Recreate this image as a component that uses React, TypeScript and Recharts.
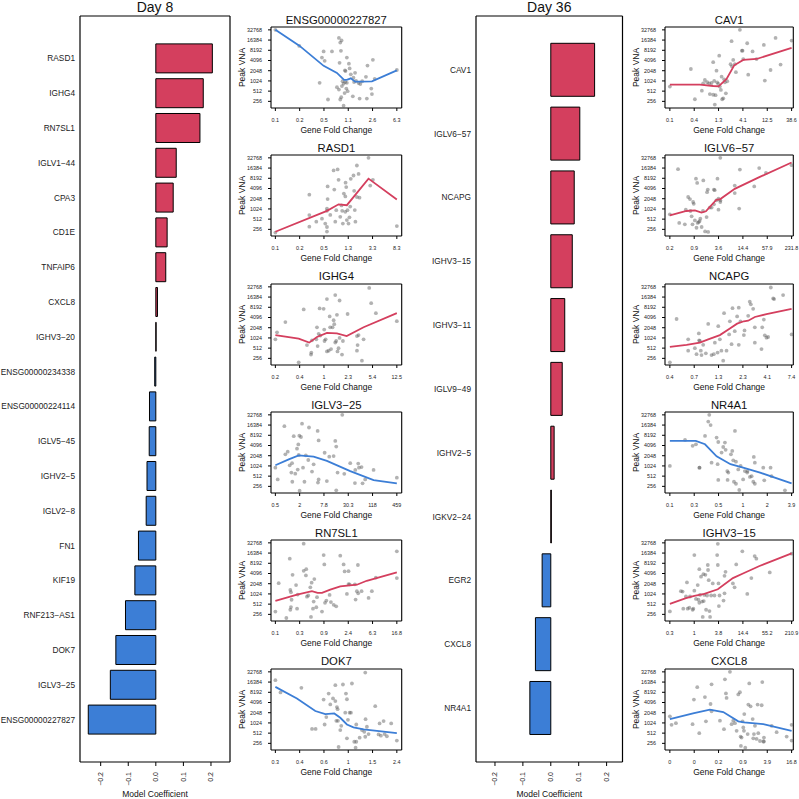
import {
  Bar,
  BarChart,
  CartesianGrid,
  Cell,
  Scatter,
  ScatterChart,
  XAxis,
  YAxis,
} from "recharts";

const FONT = '"Liberation Sans", Arial, Helvetica, sans-serif';
const RED = "#D43F5E";
const BLUE = "#3C7ED6";

// model coefficients
const day8Genes = [
  "RASD1", "IGHG4", "RN7SL1", "IGLV1\u221244", "CPA3", "CD1E", "TNFAIP6", "CXCL8",
  "IGHV3\u221220", "ENSG00000234338", "ENSG00000224114", "IGLV5\u221245", "IGHV2\u22125",
  "IGLV2\u22128", "FN1", "KIF19", "RNF213\u2212AS1", "DOK7", "IGLV3\u221225", "ENSG00000227827",
];
const day8Coef = [
  0.205, 0.172, 0.16, 0.074, 0.063, 0.041, 0.036, 0.006, 0.001, -0.004,
  -0.023, -0.024, -0.032, -0.035, -0.063, -0.076, -0.11, -0.145, -0.165, -0.245,
];
const day36Genes = [
  "CAV1", "IGLV6\u221257", "NCAPG", "IGHV3\u221215", "IGHV3\u221211", "IGLV9\u221249",
  "IGHV2\u22125", "IGKV2\u221224", "EGR2", "CXCL8", "NR4A1",
];
const day36Coef = [0.157, 0.104, 0.084, 0.077, 0.05, 0.041, 0.012, 0.002, -0.031, -0.055, -0.075];
const coefTicks = [-0.2, -0.1, 0, 0.1, 0.2];

const vnaTicks = [256, 512, 1024, 2048, 4096, 8192, 16384, 32768];

// [gene fold change, peak VNA]
const ensg227827Pts = [[0.081,32768],[0.191,11000],[0.396,900],[0.43,5000],[0.457,7600],[0.474,4000],[0.616,7600],[0.534,290],[0.79,19000],[0.829,13800],[0.869,16000],[0.849,7900],[0.809,3500],[0.98,2100],[1.0,2000],[1.05,5000],[1.13,3300],[1.16,2400],[1.21,1600],[0.901,1000],[0.934,850],[0.992,950],[1.05,900],[0.88,720],[0.79,570],[0.736,670],[0.859,340],[0.829,290],[0.968,450],[0.934,190],[1.03,610],[1.08,512],[1.33,1270],[1.36,950],[1.41,1780],[1.46,1024],[1.6,890],[1.3,360],[1.66,310],[2.15,310],[1.7,830],[1.82,1000],[2.08,1350],[2.2,2900],[2.67,4300],[2.52,610],[2.58,420],[2.85,1180],[6.3,2150]];
const ensg227827Fit = [[0.081,32768],[0.191,11200],[0.457,2850],[0.736,1760],[0.95,1100],[1.05,1100],[1.21,1220],[1.41,970],[1.7,970],[2.58,990],[6.3,2100]];
const ensg227827Ticks = ["0.1", "0.2", "0.5", "1.1", "2.6", "6.3"];

const rasd1Pts = [[0.085,205],[0.306,2700],[0.306,675],[0.306,307],[0.398,430],[0.493,530],[0.558,380],[0.61,4700],[0.61,2000],[0.595,1050],[0.595,900],[0.595,300],[0.595,220],[0.674,680],[0.764,14000],[0.889,15000],[0.784,3800],[0.845,940],[0.814,430],[0.922,7400],[0.982,600],[1.03,1300],[1.056,900],[1.083,380],[1.125,2900],[1.2,6100],[1.23,4500],[1.26,480],[1.29,940],[1.19,840],[1.34,380],[1.43,1200],[1.39,580],[1.46,7900],[1.62,9900],[1.66,3500],[1.7,950],[1.74,430],[1.84,2300],[2.03,2200],[1.84,19500],[1.96,11000],[1.19,2400],[2.85,32768],[3.04,5000],[3.36,7400],[8.3,320]];
const rasd1Fit = [[0.085,218],[0.595,900],[0.922,1400],[1.26,1320],[2.85,8000],[8.3,1940]];
const rasd1Ticks = ["0.1", "0.2", "0.5", "1.3", "3.3", "8.3"];

const ighg4Pts = [[0.186,930],[0.197,1500],[0.263,3000],[0.417,195],[0.496,7100],[0.556,630],[0.661,870],[0.639,330],[0.646,380],[0.768,930],[0.786,2100],[0.804,590],[0.862,7600],[0.882,1200],[0.833,1350],[0.99,7400],[1.01,1800],[1.02,830],[1.06,930],[1.11,14300],[1.11,410],[1.18,430],[1.22,4400],[1.24,2100],[1.28,480],[1.35,2100],[1.4,3400],[1.43,2600],[1.48,18800],[1.48,750],[1.53,830],[1.57,4900],[1.6,410],[1.66,512],[1.72,13000],[1.72,1024],[1.87,330],[1.93,830],[2.27,5200],[3.14,1160],[3.21,630],[3.32,1240],[3.14,430],[3.73,218],[3.95,930],[4.8,30500],[5.14,10800],[6.05,5500],[12.5,3200]];
const ighg4Fit = [[0.186,1240],[0.417,975],[0.6,745],[0.786,1090],[1.11,1450],[1.57,1390],[2.2,1160],[3.95,2120],[12.5,5500]];
const ighg4Ticks = ["0.2", "0.4", "1", "2.3", "5.4", "12.5"];

const iglv325Pts = [[0.516,910],[0.588,410],[0.853,15200],[0.902,2250],[1.03,2700],[1.15,1070],[1.33,350],[1.26,650],[1.31,1230],[1.44,7700],[1.57,605],[1.73,3300],[1.8,800],[1.86,4400],[1.9,2150],[1.97,8000],[2.0,190],[2.16,7300],[2.29,18000],[2.42,910],[2.62,350],[2.83,2100],[3.25,1530],[3.38,13900],[4.0,700],[4.38,1140],[5.48,11000],[5.58,330],[5.79,410],[5.79,5800],[8.1,2500],[9.17,365],[10.5,1920],[13.4,2000],[14.7,5600],[15.5,3800],[15.5,195],[16.7,650],[21.7,32768],[24.3,600],[33.9,1230],[45,780],[53,1200],[55.2,910],[63.8,950],[44.1,320],[67.5,315],[78.3,410],[125,780],[459,460]];
const iglv325Fit = [[0.516,1070],[1.09,1600],[1.9,2100],[4.38,1920],[9.2,1440],[33.9,720],[125,390],[459,315]];
const iglv325Ticks = ["0.5", "2", "7.8", "30.3", "118", "459"];

const rn7sl1Pts = [[0.126,310],[0.144,2130],[0.196,200],[0.225,11200],[0.23,350],[0.236,420],[0.23,1340],[0.236,1150],[0.242,690],[0.252,3750],[0.29,1870],[0.302,375],[0.31,980],[0.394,4900],[0.394,31000],[0.431,3600],[0.437,5500],[0.449,850],[0.474,920],[0.515,1600],[0.543,2200],[0.573,375],[0.605,2800],[0.589,610],[0.529,215],[0.656,415],[0.674,820],[0.881,14300],[0.905,7600],[0.824,310],[0.93,560],[0.981,650],[1.12,960],[1.18,590],[1.32,490],[1.46,440],[1.72,13700],[1.97,7600],[2.05,4700],[2.25,1024],[2.4,2000],[2.4,4800],[2.5,1960],[3.1,1960],[3.19,700],[3.36,1230],[3.5,7300],[3.54,1070],[4.06,1230],[5.38,780],[6.14,1230],[7.22,3100],[16.8,18400],[16.8,3000]];
const rn7sl1Fit = [[0.126,640],[0.302,980],[0.55,1230],[0.69,1100],[0.824,1100],[1.15,1370],[1.72,1710],[3.36,1910],[5.0,2500],[16.8,4400]];
const rn7sl1Ticks = ["0.1", "0.3", "0.9", "2.4", "6.3", "16.8"];

const dok7Pts = [[0.27,18700],[0.296,8100],[0.431,11100],[0.522,680],[0.557,680],[0.643,5000],[0.655,920],[0.675,1520],[0.704,7500],[0.725,3600],[0.761,5400],[0.794,13300],[0.794,4500],[0.808,1180],[0.817,3000],[0.827,2600],[0.832,1180],[0.842,200],[0.868,630],[0.883,840],[0.91,13900],[0.949,2050],[0.961,7500],[0.978,5100],[0.978,360],[0.996,1260],[1.026,2050],[1.051,2050],[1.07,14900],[1.116,285],[1.157,285],[1.143,190],[1.157,920],[1.229,375],[1.281,630],[1.336,560],[1.36,400],[1.36,31200],[1.368,1320],[1.401,790],[1.443,480],[1.627,3200],[1.728,470],[1.76,990],[1.802,430],[1.891,1160],[1.925,480],[2.006,415],[2.168,990],[2.4,310]];
const dok7Fit = [[0.27,11800],[0.398,5400],[0.554,2300],[0.663,1860],[0.779,1950],[0.868,1450],[0.978,920],[1.1,760],[1.32,660],[2.4,512]];
const dok7Ticks = ["0.3", "0.4", "0.6", "1", "1.5", "2.4"];

const cav1Pts = [[0.139,700],[0.367,2300],[0.442,295],[0.61,530],[0.649,870],[0.701,1090],[0.781,935],[0.856,870],[0.883,420],[0.954,890],[1.03,3650],[1.03,400],[1.08,1024],[1.11,205],[1.15,390],[1.2,2050],[1.24,930],[1.3,830],[1.36,5700],[1.4,700],[1.47,555],[1.52,1370],[1.56,295],[1.64,315],[1.71,1140],[1.77,930],[1.85,440],[1.97,1000],[2.41,15200],[2.3,3200],[2.45,2750],[2.6,4250],[2.81,3200],[2.94,1850],[3.54,32768],[3.88,8000],[4.0,8000],[4.13,4500],[4.96,13200],[5.2,1560],[6.35,7600],[7.64,4500],[10.7,11800],[11.2,1050],[14.6,2150],[18.4,19000],[23.2,3100],[38.6,15800]];
const cav1Fit = [[0.139,800],[0.557,800],[1.03,725],[1.32,710],[1.91,1170],[2.72,2950],[4.13,4250],[7.64,4540],[38.6,9600]];
const cav1Ticks = ["0.1", "0.4", "1.3", "4.1", "12.5", "38.6"];

const iglv657Pts = [[0.226,710],[0.36,15200],[0.385,395],[0.53,360],[0.56,975],[0.64,2300],[0.71,2000],[0.73,890],[0.78,620],[0.82,360],[0.85,1640],[0.88,1450],[0.94,470],[1.0,8000],[1.03,285],[1.07,6000],[1.1,395],[1.17,420],[1.23,450],[1.28,530],[1.38,300],[1.49,890],[1.52,7100],[1.68,223],[1.83,590],[1.88,3200],[1.96,3800],[2.0,215],[2.2,1120],[2.44,1120],[2.78,3800],[2.78,1400],[2.9,3650],[3.2,1840],[3.4,8000],[3.6,2050],[4.0,1840],[3.6,975],[4.0,1640],[4.0,32768],[9.1,5000],[9.1,3000],[11.7,1050],[12.2,14800],[27.6,4700],[36.6,16400],[53.8,11800],[231.8,19900]];
const iglv657Fit = [[0.226,660],[0.58,890],[0.94,930],[1.37,800],[1.76,870],[2.12,1120],[3.2,1910],[4.0,2000],[9.1,4000],[38,9000],[231.8,23900]];
const iglv657Ticks = ["0.2", "0.9", "3.6", "14.4", "57.9", "231.8"];

const ncapgPts = [[0.402,195],[0.472,3700],[0.623,930],[0.623,430],[0.731,510],[0.761,340],[0.804,1390],[0.81,870],[0.824,830],[0.843,430],[0.857,320],[0.892,640],[0.951,360],[1.006,2650],[1.09,320],[1.15,340],[1.18,740],[1.26,380],[1.28,2270],[1.33,930],[1.38,430],[1.44,218],[1.47,5500],[1.56,430],[1.66,1300],[1.69,3170],[1.76,670],[1.8,7700],[1.9,1620],[2.01,4400],[2.09,640],[2.09,8000],[2.18,3170],[2.36,1240],[2.4,1700],[2.62,4600],[2.72,12000],[2.79,10000],[2.95,7400],[3.07,2100],[3.07,740],[3.6,480],[3.66,2100],[3.81,3550],[3.9,1220],[4.06,1040],[4.22,1090],[4.5,31400],[4.76,15000],[4.87,14300],[6.04,18800],[7.4,1300]];
const ncapgFit = [[0.402,556],[0.6,640],[0.824,745],[1.006,930],[1.33,1240],[1.69,1940],[2.01,2700],[2.36,3170],[2.62,3300],[3.07,4240],[4.06,5150],[7.4,7400]];
const ncapgTicks = ["0.4", "0.7", "1.3", "2.3", "4.1", "7.4"];

const nr4a1Pts = [[0.131,1024],[0.2,6000],[0.247,4000],[0.271,4450],[0.298,910],[0.3,910],[0.349,7850],[0.382,20800],[0.393,32768],[0.408,16400],[0.419,1280],[0.482,7000],[0.496,1150],[0.505,5200],[0.505,395],[0.554,2540],[0.58,3700],[0.608,5000],[0.62,3050],[0.649,720],[0.655,395],[0.668,650],[0.719,2250],[0.746,2830],[0.767,1500],[0.782,350],[0.804,11000],[0.827,1370],[0.827,305],[0.882,810],[0.907,200],[0.942,1024],[1.01,410],[1.06,720],[1.13,650],[1.14,720],[1.22,485],[1.28,512],[1.34,350],[1.4,305],[1.36,1890],[1.4,1280],[1.77,910],[1.82,385],[2.17,910],[2.23,512],[3.24,195]];
const nr4a1Fit = [[0.131,5600],[0.27,5600],[0.349,4450],[0.482,1970],[0.71,1150],[1.01,910],[1.62,650],[3.9,315]];
const nr4a1Ticks = ["0.1", "0.3", "0.5", "1", "2", "3.9"];

const ighv315Pts = [[0.259,312],[0.476,1230],[0.522,1200],[0.542,375],[0.628,860],[0.664,2240],[0.689,375],[0.756,400],[0.784,860],[0.908,350],[0.942,375],[0.997,14300],[0.997,1280],[1.09,730],[1.2,1870],[1.25,690],[1.31,560],[1.36,960],[1.31,5500],[1.44,3300],[1.52,610],[1.67,630],[1.58,215],[1.64,3900],[1.73,960],[1.83,3750],[1.9,350],[2.01,920],[2.09,7300],[2.12,5200],[2.2,2600],[2.29,320],[2.37,215],[2.51,920],[2.75,2090],[3.02,920],[3.5,14300],[3.63,7300],[3.77,2090],[3.98,920],[3.85,450],[4.97,650],[5.25,1070],[5.25,3500],[5.55,4600],[3.63,30600],[10.0,7600],[8.33,2090],[9.13,1600],[14.0,18500],[18.4,1024],[23,3000],[27.6,13400],[30.3,11200],[63.4,4400],[210.9,15700]];
const ighv315Fit = [[0.259,520],[0.628,765],[0.997,890],[1.73,1024],[3.63,1400],[8.33,3000],[14.5,4100],[36,6800],[210.9,16000]];
const ighv315Ticks = ["0.3", "1", "3.8", "14.4", "55.2", "210.9"];

const cxcl8Pts = [[0.0112,1600],[0.0124,900],[0.0161,1010],[0.0438,940],[0.0475,5000],[0.058,11600],[0.0655,510],[0.092,5900],[0.0977,1140],[0.129,3700],[0.137,14100],[0.137,2260],[0.227,1190],[0.289,670],[0.306,19800],[0.325,7600],[0.338,5600],[0.414,32768],[0.457,940],[0.505,1190],[0.559,1010],[0.618,600],[0.683,7100],[0.755,8200],[0.785,405],[0.8,215],[0.833,380],[0.884,1140],[0.922,750],[0.96,600],[0.979,1870],[1.04,190],[1.2,480],[1.25,3570],[1.32,15000],[1.43,3170],[1.62,1330],[1.68,360],[1.75,480],[1.86,840],[2.05,345],[2.18,3570],[2.27,510],[2.51,300],[2.78,3400],[2.89,16400],[3.07,290],[3.19,290],[3.19,380],[5.06,840],[6.84,545],[12.5,405],[16.8,900],[16.8,310]];
const cxcl8Fit = [[0.0112,1330],[0.048,2000],[0.124,2520],[0.277,2150],[0.683,1140],[0.96,1060],[3.07,940],[16.8,600]];
const cxcl8Ticks = ["0", "0", "0.2", "0.9", "3.9", "16.8"];

// first and last x tick values (ticks are evenly spaced on the log axis)
const day8Panels = [
  { title: "ENSG00000227827", pts: ensg227827Pts, fit: ensg227827Fit, ticks: ensg227827Ticks, span: [0.081, 6.3], up: false },
  { title: "RASD1", pts: rasd1Pts, fit: rasd1Fit, ticks: rasd1Ticks, span: [0.085, 8.3], up: true },
  { title: "IGHG4", pts: ighg4Pts, fit: ighg4Fit, ticks: ighg4Ticks, span: [0.186, 12.5], up: true },
  { title: "IGLV3\u221225", pts: iglv325Pts, fit: iglv325Fit, ticks: iglv325Ticks, span: [0.516, 459], up: false },
  { title: "RN7SL1", pts: rn7sl1Pts, fit: rn7sl1Fit, ticks: rn7sl1Ticks, span: [0.126, 16.8], up: true },
  { title: "DOK7", pts: dok7Pts, fit: dok7Fit, ticks: dok7Ticks, span: [0.27, 2.4], up: false },
];
const day36Panels = [
  { title: "CAV1", pts: cav1Pts, fit: cav1Fit, ticks: cav1Ticks, span: [0.139, 38.6], up: true },
  { title: "IGLV6\u221257", pts: iglv657Pts, fit: iglv657Fit, ticks: iglv657Ticks, span: [0.226, 231.8], up: true },
  { title: "NCAPG", pts: ncapgPts, fit: ncapgFit, ticks: ncapgTicks, span: [0.402, 7.4], up: true },
  { title: "NR4A1", pts: nr4a1Pts, fit: nr4a1Fit, ticks: nr4a1Ticks, span: [0.131, 3.9], up: false },
  { title: "IGHV3\u221215", pts: ighv315Pts, fit: ighv315Fit, ticks: ighv315Ticks, span: [0.259, 210.9], up: true },
  { title: "CXCL8", pts: cxcl8Pts, fit: cxcl8Fit, ticks: cxcl8Ticks, span: [0.0112, 16.8], up: false },
];

const PANEL_TOPS = [27, 155.3, 283.6, 411.9, 540.2, 668.5];
const VNA_DOMAIN = [163, 39800];

const boxH = ({ offset }: any) => [offset.top, offset.top + offset.height];
const boxV = ({ offset }: any) => [offset.left, offset.left + offset.width];

const CoefTick = (props: any) => {
  const { x, y, payload } = props;
  const v = payload.value;
  const s = (v < 0 ? "\u2212" : "") + Math.abs(v).toFixed(1);
  return (
    <text x={x} y={y} transform={`rotate(-90 ${x} ${y})`} textAnchor="end" dominantBaseline="central"
      fontSize={7} fill="#222" fontFamily={FONT}>
      {s}
    </text>
  );
};

const xTitle = (text: string, dy: number) => (props: any) => {
  const vb = props.viewBox;
  return (
    <text x={vb.x + vb.width / 2} y={vb.y + dy} textAnchor="middle" dominantBaseline="central"
      fontSize={8.5} fill="#111" fontFamily={FONT}>
      {text}
    </text>
  );
};

const yTitle = (text: string, fromRight: number) => (props: any) => {
  const vb = props.viewBox;
  const x = vb.x + vb.width - fromRight;
  const y = vb.y + vb.height / 2;
  return (
    <text x={x} y={y} transform={`rotate(-90 ${x} ${y})`} textAnchor="middle" dominantBaseline="central"
      fontSize={8.5} fill="#111" fontFamily={FONT}>
      {text}
    </text>
  );
};

function CoefChart({ title, genes, coefs, left, width, axisW, rightM, domain, pad }: any) {
  const data = genes.map((g: string, i: number) => ({ gene: g, coef: coefs[i] }));
  const plotW = width - axisW - rightM;
  return (
    <>
      <div style={{ position: "absolute", left: left + axisW, top: 0, width: plotW, height: 15, lineHeight: "15px",
        textAlign: "center", fontSize: 14, fontFamily: FONT, color: "#111" }}>
        {title}
      </div>
      <div style={{ position: "absolute", left, top: 0 }}>
        <BarChart width={width} height={799} data={data} layout="vertical" barCategoryGap="8.3%"
          margin={{ top: 16, right: rightM, left: 0, bottom: 0 }}>
          <CartesianGrid stroke="#000" strokeWidth={1.2} horizontalCoordinatesGenerator={boxH}
            verticalCoordinatesGenerator={boxV} />
          <XAxis type="number" domain={domain} allowDataOverflow ticks={coefTicks} interval={0} height={37}
            axisLine={false} tickSize={4} tickMargin={6} tickLine={{ stroke: "#000" }} tick={<CoefTick />}
            label={xTitle("Model Coefficient", 32)} />
          <YAxis type="category" dataKey="gene" width={axisW} axisLine={false} tickLine={false} tickSize={0}
            tickMargin={5} interval={0} padding={{ top: pad, bottom: pad }}
            tick={{ fontSize: 8.3, fill: "#222", fontFamily: FONT }} />
          <Bar dataKey="coef" stroke="#000" strokeWidth={1} isAnimationActive={false}>
            {data.map((d: any, i: number) => (
              <Cell key={i} fill={d.coef >= 0 ? RED : BLUE} />
            ))}
          </Bar>
        </BarChart>
      </div>
    </>
  );
}

const dot = (p: any) => <circle cx={p.cx} cy={p.cy} r={1.9} fill="#555" fillOpacity={0.45} />;
const noDot = () => <g />;

function FitPanel({ p, top, col }: any) {
  const [lo, hi] = p.span;
  const r = Math.pow(hi / lo, 1 / 5);
  const ticks = p.ticks.map((_: string, i: number) => lo * Math.pow(r, i));
  const domain = [lo / Math.pow(r, col.ext[0]), hi * Math.pow(r, col.ext[1])];
  const pts = p.pts.map(([x, y]: number[]) => ({ x, y }));
  const fit = p.fit.map(([x, y]: number[]) => ({ x, y }));
  const color = p.up ? RED : BLUE;
  const plotW = col.width - col.axisW - col.rightM;
  return (
    <>
      <div style={{ position: "absolute", left: col.left + col.axisW, top: top - 14.3, width: plotW, height: 14,
        lineHeight: "14px", textAlign: "center", fontSize: 11.3, fontFamily: FONT, color: "#111", whiteSpace: "nowrap" }}>
        {p.title}
      </div>
      <div style={{ position: "absolute", left: col.left, top: top - 2 }}>
        <ScatterChart width={col.width} height={113} margin={{ top: 2, right: col.rightM, left: 0, bottom: 0 }}>
          <CartesianGrid stroke="#000" strokeWidth={1.1} horizontalCoordinatesGenerator={boxH}
            verticalCoordinatesGenerator={boxV} />
          <XAxis type="number" dataKey="x" scale="log" domain={domain} allowDataOverflow ticks={ticks} interval={0}
            tickFormatter={(_v: number, i: number) => p.ticks[i]} height={30} axisLine={false} tickSize={3}
            tickMargin={7} tickLine={{ stroke: "#000" }} tick={{ fontSize: 5.4, fill: "#222", fontFamily: FONT }}
            label={xTitle("Gene Fold Change", 22)} />
          <YAxis type="number" dataKey="y" scale="log" domain={VNA_DOMAIN} allowDataOverflow ticks={vnaTicks}
            interval={0} width={col.axisW} axisLine={false} tickSize={3} tickMargin={6} tickLine={{ stroke: "#000" }}
            tick={{ fontSize: 5.4, fill: "#222", fontFamily: FONT }} label={yTitle("Peak VNA", 29.3)} />
          <Scatter data={pts} shape={dot} isAnimationActive={false} />
          <Scatter data={fit} fill={color} shape={noDot} line={{ stroke: color, strokeWidth: 1.8 }} lineType="joint"
            isAnimationActive={false} />
        </ScatterChart>
      </div>
    </>
  );
}

const col8 = { left: 230, width: 175, axisW: 41, rightM: 3.3, ext: [0.18, 0.2] };
const col36 = { left: 620, width: 179, axisW: 45, rightM: 5.7, ext: [0.2, 0.07] };

export default function App() {
  return (
    <div style={{ position: "absolute", left: 0, top: 0, width: 799, height: 799, background: "#fff",
      fontFamily: FONT, overflow: "hidden" }}>
      <CoefChart title="Day 8" genes={day8Genes} coefs={day8Coef} left={0} width={235} axisW={80} rightM={5}
        domain={[-0.275, 0.269]} pad={25} />
      <CoefChart title="Day 36" genes={day36Genes} coefs={day36Coef} left={400} width={228} axisW={76} rightM={5.5}
        domain={[-0.268, 0.257]} pad={22} />
      {day8Panels.map((p, i) => (
        <FitPanel key={p.title} p={p} top={PANEL_TOPS[i]} col={col8} />
      ))}
      {day36Panels.map((p, i) => (
        <FitPanel key={p.title} p={p} top={PANEL_TOPS[i]} col={col36} />
      ))}
    </div>
  );
}
